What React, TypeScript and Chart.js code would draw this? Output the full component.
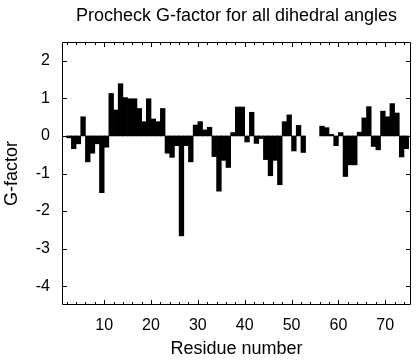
import React, { useEffect, useRef } from 'react';
import { Chart, registerables } from 'chart.js';

Chart.register(...registerables);

const residues = [
  2, 3, 4, 5, 6, 7, 8, 9, 10, 11, 12, 13, 14, 15, 16, 17, 18, 19, 20, 21, 22,
  23, 24, 25, 26, 27, 28, 29, 30, 31, 32, 33, 34, 35, 36, 37, 38, 39, 40, 41,
  42, 43, 44, 45, 46, 47, 48, 49, 50, 51, 52, 56, 57, 58, 59, 60, 61, 62, 63,
  64, 65, 66, 67, 68, 69, 70, 71, 72, 73, 74,
];
const gFactor = [
  -0.05, -0.34, -0.21, 0.51, -0.69, -0.46, -0.21, -1.51, -0.3, 1.13, 0.69,
  1.39, 1.02, 0.99, 0.99, 0.73, 0.38, 0.99, 0.45, 0.38, 0.73, -0.46, -0.57,
  -0.26, -2.66, -0.26, -0.69, 0.29, 0.38, 0.16, 0.23, -0.55, -1.47, -0.65,
  -0.84, 0.09, 0.77, 0.77, -0.16, 0.63, -0.2, -0.07, -0.63, -1.06, -0.65,
  -1.3, 0.38, 0.56, -0.4, 0.28, -0.44, 0.26, 0.22, 0.04, -0.26, 0.09, -1.08,
  -0.77, -0.77, 0.1, 0.48, 0.78, -0.28, -0.37, 0.66, 0.51, 0.86, 0.61, -0.56,
  -0.34,
];
const xTickValues = [10, 20, 30, 40, 50, 60, 70];
const yTickValues = [-4, -3, -2, -1, 0, 1, 2];
const titleText = 'Procheck G-factor for all dihedral angles';
const xTitleText = 'Residue number';
const yTitleText = 'G-factor';

const FONT = "'Liberation Sans', Arial, Helvetica, sans-serif";

const frameTicks = {
  id: 'frameTicks',
  afterDatasetsDraw(chart: any) {
    const { ctx, chartArea: a } = chart;
    const xs = chart.scales.x;
    const ys = chart.scales.y;
    ctx.save();
    ctx.strokeStyle = '#000';
    ctx.lineWidth = 1;
    ctx.beginPath();
    ctx.rect(a.left + 0.5, a.top + 0.5, a.right - a.left - 1, a.bottom - a.top - 1);
    ctx.stroke();
    ctx.beginPath();
    for (let v = 2; v <= 74; v += 2) {
      const px = Math.round(xs.getPixelForValue(v)) + 0.5;
      const len = v % 10 === 0 ? 5 : 3;
      ctx.moveTo(px, a.bottom);
      ctx.lineTo(px, a.bottom - len);
      ctx.moveTo(px, a.top);
      ctx.lineTo(px, a.top + len);
    }
    for (const v of yTickValues) {
      const py = Math.round(ys.getPixelForValue(v)) + 0.5;
      ctx.moveTo(a.left, py);
      ctx.lineTo(a.left + 5, py);
      ctx.moveTo(a.right, py);
      ctx.lineTo(a.right - 5, py);
    }
    ctx.stroke();
    ctx.restore();
  },
};

export default function App() {
  const ref = useRef<HTMLCanvasElement>(null);
  useEffect(() => {
    document.body.style.margin = '0';
    const canvas = ref.current!;
    const chart = new Chart(canvas, {
      type: 'bar',
      data: {
        datasets: [
          {
            data: residues.map((r, i) => ({ x: r, y: gFactor[i] })),
            backgroundColor: '#000',
            borderWidth: 0,
            barPercentage: 1,
            categoryPercentage: 1,
            xAxisID: 'xb',
            yAxisID: 'y',
          },
        ],
      },
      options: {
        animation: false,
        responsive: false,
        devicePixelRatio: 1,
        layout: { padding: { left: 0, right: 5, top: 0, bottom: 0 } },
        plugins: {
          legend: { display: false },
          tooltip: { enabled: false },
          title: { display: false },
        },
        scales: {
          xb: {
            type: 'linear',
            display: false,
            min: 0.5,
            max: 75,
            offset: false,
            grid: { offset: false },
          },
          x: {
            type: 'linear',
            position: 'bottom',
            min: 1,
            max: 75.5,
            offset: false,
            grid: { display: false, drawTicks: false, offset: false },
            border: { display: false },
            ticks: {
              color: '#000',
              font: { family: FONT, size: 16 },
              padding: 11,
              maxRotation: 0,
            },
            title: {
              display: true,
              text: xTitleText,
              color: '#000',
              font: { family: FONT, size: 18 },
              padding: { top: 0, bottom: 0 },
            },
            afterBuildTicks(s: any) {
              s.ticks = xTickValues.map((v) => ({ value: v }));
            },
            afterFit(s: any) {
              s.height = 55;
            },
          },
          top: {
            type: 'linear',
            position: 'top',
            min: 1,
            max: 75.5,
            offset: false,
            grid: { display: false, drawTicks: false, offset: false },
            border: { display: false },
            ticks: { display: false },
            title: {
              display: true,
              text: titleText,
              color: '#000',
              font: { family: FONT, size: 18 },
              padding: { top: 5, bottom: 0 },
            },
            afterFit(s: any) {
              s.height = 42;
            },
          },
          y: {
            type: 'linear',
            min: -4.5,
            max: 2.5,
            grid: { display: false, drawTicks: false },
            border: { display: false },
            ticks: {
              color: '#000',
              font: { family: FONT, size: 16 },
              padding: 12,
            },
            title: {
              display: true,
              text: yTitleText,
              color: '#000',
              font: { family: FONT, size: 18 },
              padding: { top: 1, bottom: 0 },
            },
            afterBuildTicks(s: any) {
              s.ticks = yTickValues.map((v) => ({ value: v }));
            },
            afterFit(s: any) {
              s.width = 62;
            },
          },
        },
      },
      plugins: [frameTicks],
    } as any);
    return () => chart.destroy();
  }, []);
  return <canvas ref={ref} width={416} height={360} style={{ display: 'block' }} />;
}
